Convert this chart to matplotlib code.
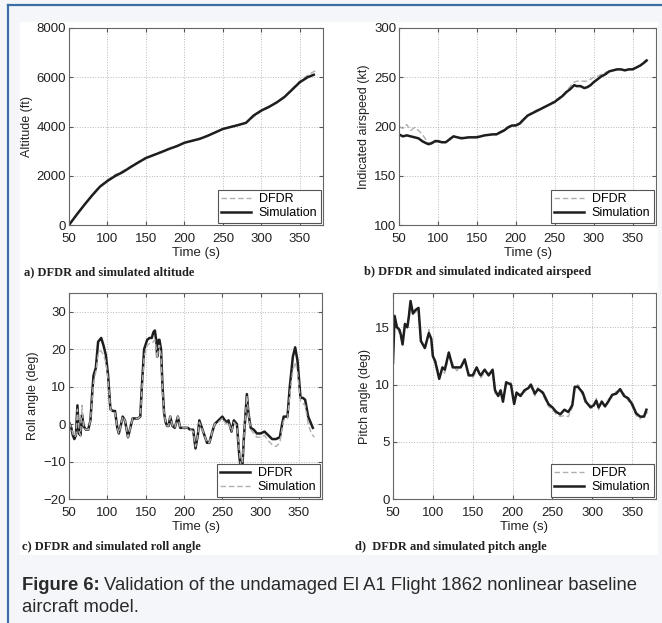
import numpy as np
import matplotlib
matplotlib.use('Agg')
import matplotlib.pyplot as plt
from matplotlib.lines import Line2D

plt.rcParams['font.family'] = ['Liberation Sans', 'DejaVu Sans']

# ---- data (time s, value) ----
alt_sim = [(50, 0), (60, 420), (70, 820), (80, 1200), (90, 1550), (100, 1790), (110, 1990),
           (120, 2150), (130, 2350), (140, 2540), (150, 2720), (160, 2840), (170, 2960),
           (180, 3090), (190, 3200), (200, 3340), (210, 3420), (220, 3500), (230, 3620),
           (240, 3760), (250, 3900), (260, 3980), (270, 4060), (280, 4150), (290, 4450),
           (300, 4650), (310, 4800), (320, 4980), (330, 5200), (340, 5500), (350, 5800),
           (360, 6000), (368, 6100)]
alt_dfdr = [(50, 0), (60, 430), (70, 830), (80, 1220), (90, 1580), (100, 1830), (110, 2050),
            (120, 2200), (130, 2380), (140, 2560), (150, 2730), (160, 2860), (170, 2980),
            (180, 3100), (190, 3210), (200, 3340), (210, 3430), (220, 3520), (230, 3640),
            (240, 3770), (250, 3900), (260, 3990), (270, 4070), (280, 4150), (290, 4400),
            (300, 4620), (310, 4790), (320, 4990), (330, 5220), (340, 5530), (350, 5850),
            (360, 6080), (368, 6230), (372, 6300)]

ias_sim = [(50, 192), (55, 190), (60, 191), (65, 190), (70, 189), (75, 188), (80, 185),
           (85, 183), (88, 182), (92, 183), (96, 185), (100, 185), (105, 184), (110, 184),
           (115, 187), (120, 190), (125, 189), (130, 188), (140, 189), (150, 189), (160, 191),
           (170, 192), (175, 192), (180, 194), (185, 196), (190, 199), (195, 201), (200, 201),
           (205, 203), (210, 207), (215, 211), (220, 213), (230, 217), (240, 221), (250, 225),
           (260, 231), (265, 235), (270, 238), (275, 242), (278, 241), (283, 241), (288, 239),
           (292, 240), (296, 242), (300, 245), (305, 248), (310, 251), (315, 253), (320, 256),
           (325, 257), (330, 258), (335, 258), (340, 257), (345, 258), (350, 258), (355, 260),
           (360, 262), (365, 265), (368, 267)]
ias_dfdr = [(50, 200), (55, 198), (60, 202), (65, 196), (70, 199), (75, 196), (80, 192),
            (85, 186), (88, 183), (92, 184), (96, 186), (100, 186), (105, 185), (110, 184),
            (115, 188), (120, 190), (125, 189), (130, 189), (140, 189), (150, 190), (160, 191),
            (170, 192), (175, 193), (180, 195), (185, 197), (190, 200), (195, 201), (200, 202),
            (205, 204), (210, 208), (215, 211), (220, 214), (230, 218), (240, 221), (250, 226),
            (260, 232), (265, 236), (270, 241), (275, 245), (278, 246), (283, 246), (288, 246),
            (292, 246), (296, 248), (300, 250), (305, 251), (310, 253), (315, 255), (320, 256),
            (325, 257), (330, 258), (335, 258), (340, 257), (345, 258), (350, 259), (355, 260),
            (360, 262), (365, 266), (368, 268)]

roll_dfdr = [(50, 0.5), (53, -1), (55, -3), (57, -4), (59, -3), (61, 5), (63, -2.5), (65, -3),
             (67, 2.5), (69, -0.5), (72, -1.5), (75, -1.5), (78, 1), (80, 7.5), (82, 13),
             (85, 15), (88, 22), (90, 22.5), (92, 23), (95, 21), (98, 18.5), (101, 13),
             (104, 4), (107, 3.5), (110, 3.5), (113, -1), (115, -2.5), (118, 0), (120, 2),
             (123, 1), (127, -3.5), (130, -1), (133, 1.5), (137, 1.5), (140, 1.5), (143, 2),
             (145, 10), (148, 20), (152, 22.5), (155, 23), (158, 23), (160, 24.5), (162, 25),
             (164, 22), (165, 18), (167, 22.5), (168, 22.5), (170, 20), (172, 10), (174, 3),
             (176, 0.5), (178, -0.5), (180, -0.5), (182, 2), (185, -0.5), (188, -1), (192, 2),
             (195, -1), (200, -1), (205, -1), (208, -1.5), (212, -1.5), (215, -6.5), (218, -3),
             (220, 1), (225, -2), (230, -5), (233, -5), (237, -2), (240, 0), (245, 1), (250, 2),
             (255, 0.5), (258, 1), (262, -2), (265, 1), (269, 0), (272, -8), (274, -12),
             (276, -12), (278, -4), (280, 2), (282, 8), (284, 3), (287, -1), (291, -1.5),
             (295, -2.5), (300, -2.5), (305, -2), (310, -3), (315, -4), (320, -4), (325, -3.5),
             (328, 0), (330, 2), (335, 2), (338, 10), (342, 18), (345, 20.5), (348, 17),
             (350, 12), (352, 7), (355, 7), (358, 6.5), (362, 2), (368, -1)]
roll_sim = [(50, 0.5), (53, -1), (55, -2.5), (57, -3.5), (59, -3), (61, 4), (63, -2), (65, -3),
            (67, 5), (69, -1), (72, -1.5), (75, -1.5), (78, 1), (80, 6.5), (82, 11),
            (85, 14), (88, 18.5), (90, 19.5), (92, 19.5), (95, 18.5), (98, 16.5), (101, 12),
            (104, 4), (107, 3), (110, 3), (113, -1), (115, -2.5), (118, 0), (120, 2),
            (123, 1), (127, -3.5), (130, -1), (133, 1.5), (137, 1.5), (140, 1.5), (143, 2),
            (145, 9), (148, 18), (152, 21), (155, 21.5), (158, 21.5), (160, 22), (162, 22.5),
            (164, 20), (165, 17.5), (167, 21), (168, 21), (170, 18.5), (172, 9), (174, 3),
            (176, 0.5), (178, -0.5), (180, -0.5), (182, 2), (185, -0.5), (188, -1), (192, 2),
            (195, -1), (200, -1), (205, -1), (208, -1.5), (212, -2), (215, -6), (218, -3),
            (220, 0.5), (225, -2), (230, -5), (233, -5), (237, -2), (240, 0), (245, 0.5),
            (250, 1.5), (255, 0), (258, 0.5), (262, -2), (265, 0.5), (269, -0.5), (272, -7),
            (274, -11), (276, -11), (278, -4), (280, 2), (282, 7.5), (284, 3), (287, -1.5),
            (291, -2.5), (295, -3.5), (300, -3.5), (305, -3), (310, -4.5), (315, -5.5),
            (320, -6), (325, -5), (328, -1), (330, 1), (335, 1.5), (338, 8), (342, 14.5),
            (345, 16.5), (348, 14), (350, 10), (352, 6), (355, 5.5), (358, 5), (362, 0),
            (366, -2.5), (370, -3.5)]

pitch_sim = [(50, 11.9), (52, 16), (55, 15), (58, 14.8), (60, 14.3), (62, 13.5), (65, 15.3),
             (68, 15), (70, 16), (72, 17.3), (75, 16.2), (78, 16.5), (82, 16.7), (85, 13.8),
             (90, 13.2), (95, 14.5), (98, 14), (100, 12.5), (103, 12), (108, 10.5), (112, 11.5),
             (115, 11.3), (120, 12.8), (125, 11.5), (130, 11.5), (135, 11.5), (140, 12.2),
             (145, 10.8), (150, 10.8), (155, 11.5), (158, 11), (160, 10.8), (165, 11.3),
             (170, 10.8), (175, 11.3), (178, 9.5), (182, 9), (185, 9.5), (188, 8.5), (192, 10.2),
             (198, 10), (202, 8.3), (205, 9.3), (210, 9), (215, 9.5), (220, 9.7), (223, 10),
             (228, 9.2), (232, 9.6), (238, 9.3), (245, 8.3), (250, 8.0), (255, 7.6), (260, 7.4),
             (265, 7.8), (270, 7.6), (275, 8.2), (278, 9.8), (282, 9.8), (288, 9.3), (292, 8.5),
             (298, 8.0), (302, 8.2), (305, 8.6), (308, 8.0), (312, 8.5), (316, 8.1), (320, 8.5),
             (325, 9.1), (330, 9.2), (335, 9.6), (340, 9.0), (345, 8.8), (350, 8.3), (355, 7.5),
             (360, 7.2), (365, 7.2), (368, 7.8)]
pitch_dfdr = [(50, 12.5), (52, 15.5), (55, 15.2), (58, 14.5), (60, 14.0), (62, 13.8), (65, 15.0),
              (68, 15.2), (70, 16.2), (72, 17.0), (75, 16.5), (78, 16.3), (82, 16.5), (85, 14.0),
              (90, 13.0), (95, 14.8), (98, 13.8), (100, 12.2), (103, 12.2), (108, 10.8),
              (112, 11.2), (115, 11.0), (120, 12.5), (125, 11.8), (130, 11.2), (135, 11.6),
              (140, 12.0), (145, 11.0), (150, 10.6), (155, 11.2), (158, 11.2), (160, 10.6),
              (165, 11.0), (170, 11.0), (175, 11.0), (178, 9.2), (182, 9.2), (185, 9.2),
              (188, 8.7), (192, 10.0), (198, 10.2), (202, 8.6), (205, 9.0), (210, 9.2),
              (215, 9.3), (220, 9.9), (223, 9.8), (228, 9.0), (232, 9.8), (238, 9.1), (245, 8.1),
              (250, 7.8), (255, 7.4), (260, 7.2), (265, 7.3), (270, 7.2), (275, 8.0), (278, 9.6),
              (282, 10.0), (288, 9.0), (292, 8.3), (298, 8.2), (302, 8.0), (305, 8.8), (308, 7.8),
              (312, 8.7), (316, 7.9), (320, 8.7), (325, 8.9), (330, 9.4), (335, 9.4), (340, 9.2),
              (345, 8.6), (350, 8.1), (355, 7.3), (360, 7.0), (365, 7.3), (370, 7.6)]

time_ticks = [50, 100, 150, 200, 250, 300, 350]

W, H = 662, 623
fig = plt.figure(figsize=(W / 100, H / 100), dpi=100, facecolor='#f4f6fa')

# white picture area and blue frame lines
fig.patches.append(plt.Rectangle((20 / W, 1 - 555 / H), 638 / W, 533 / H,
                                 transform=fig.transFigure, facecolor='white',
                                 edgecolor='none', zorder=-10))
fig.add_artist(Line2D([8 / W, 1], [1 - 5 / H, 1 - 5 / H], color='#3d6fa6', lw=1.6))
fig.add_artist(Line2D([8 / W, 8 / W], [0, 1 - 5 / H], color='#3d6fa6', lw=1.6))

dash_kw = dict(color='#b0b0b0', lw=1.0, ls=(0, (4, 2)))
solid_kw = dict(color='#1e1e1e', lw=1.8)


def box(x0, x1, y0, y1):
    return [x0 / W, 1 - y1 / H, (x1 - x0) / W, (y1 - y0) / H]


def style(ax, ylim, yticks, ylabel):
    ax.set_xlim(50, 380)
    ax.set_ylim(*ylim)
    ax.set_xticks(time_ticks)
    ax.set_yticks(yticks)
    ax.grid(True, ls=':', color='#b8b8b8', lw=0.7)
    ax.tick_params(direction='in', top=True, right=True, labelsize=9.5, length=3,
                   color='#555555', labelcolor='#222222')
    ax.tick_params(axis='x', pad=6)
    ax.tick_params(axis='y', pad=2)
    for s in ax.spines.values():
        s.set_color('#666666')
        s.set_linewidth(0.8)
    ax.set_xlabel('Time (s)', fontsize=9.5, labelpad=1, color='#222222')
    ax.set_ylabel(ylabel, fontsize=9, labelpad=3, color='#222222')
    ax.set_axisbelow(True)


def legend(ax):
    l = ax.legend(loc='lower right', fontsize=9, frameon=True, fancybox=False,
                  edgecolor='#555555', borderaxespad=0.2, handlelength=2.4,
                  borderpad=0.25, labelspacing=0.15, handletextpad=0.6, framealpha=1)
    l.get_frame().set_linewidth(0.8)


def xy(pairs):
    a = np.array(pairs, dtype=float)
    return a[:, 0], a[:, 1]


# a) altitude
ax = fig.add_axes(box(69, 323, 28, 225))
ax.plot(*xy(alt_dfdr), label='DFDR', **dash_kw)
ax.plot(*xy(alt_sim), label='Simulation', **solid_kw)
style(ax, (0, 8000), [0, 2000, 4000, 6000, 8000], 'Altitude (ft)')
legend(ax)

# b) airspeed
ax = fig.add_axes(box(399, 656, 28, 225))
ax.plot(*xy(ias_dfdr), label='DFDR', **dash_kw)
ax.plot(*xy(ias_sim), label='Simulation', **solid_kw)
style(ax, (100, 300), [100, 150, 200, 250, 300], 'Indicated airspeed (kt)')
legend(ax)

# c) roll
ax = fig.add_axes(box(69, 322, 293, 499))
ax.plot(*xy(roll_dfdr), label='DFDR', **solid_kw)
ax.plot(*xy(roll_sim), label='Simulation', **dash_kw)
style(ax, (-20, 35), [-20, -10, 0, 10, 20, 30], 'Roll angle (deg)')
legend(ax)

# d) pitch
ax = fig.add_axes(box(393, 656, 293, 499))
ax.plot(*xy(pitch_dfdr), label='DFDR', **dash_kw)
ax.plot(*xy(pitch_sim), label='Simulation', **solid_kw)
style(ax, (0, 18), [0, 5, 10, 15], 'Pitch angle (deg)')
legend(ax)

sub_kw = dict(fontsize=9, fontweight='bold', family=['Liberation Serif', 'DejaVu Serif'],
              va='center', ha='left', color='#222222')
fig.text(24 / W, 1 - 272 / H, 'a) DFDR and simulated altitude', **sub_kw)
fig.text(364 / W, 1 - 272 / H, 'b) DFDR and simulated indicated airspeed', **sub_kw)
fig.text(22 / W, 1 - 547 / H, 'c) DFDR and simulated roll angle', **sub_kw)
fig.text(355 / W, 1 - 547 / H, 'd)  DFDR and simulated pitch angle', **sub_kw)

cap_y1 = 1 - 585 / H
t1 = fig.text(22 / W, cap_y1, 'Figure 6:', fontsize=13.3, fontweight='bold',
              color='#2a2a2a', va='center', ha='left')
fig.canvas.draw()
bb = t1.get_window_extent()
fig.text(bb.x1 / W + 4 / W, cap_y1,
         'Validation of the undamaged El A1 Flight 1862 nonlinear baseline',
         fontsize=13.3, color='#2a2a2a', va='center', ha='left')
fig.text(22 / W, 1 - 607 / H, 'aircraft model.', fontsize=13.3, color='#2a2a2a',
         va='center', ha='left')

fig.savefig('out.png', dpi=100, facecolor=fig.get_facecolor())
